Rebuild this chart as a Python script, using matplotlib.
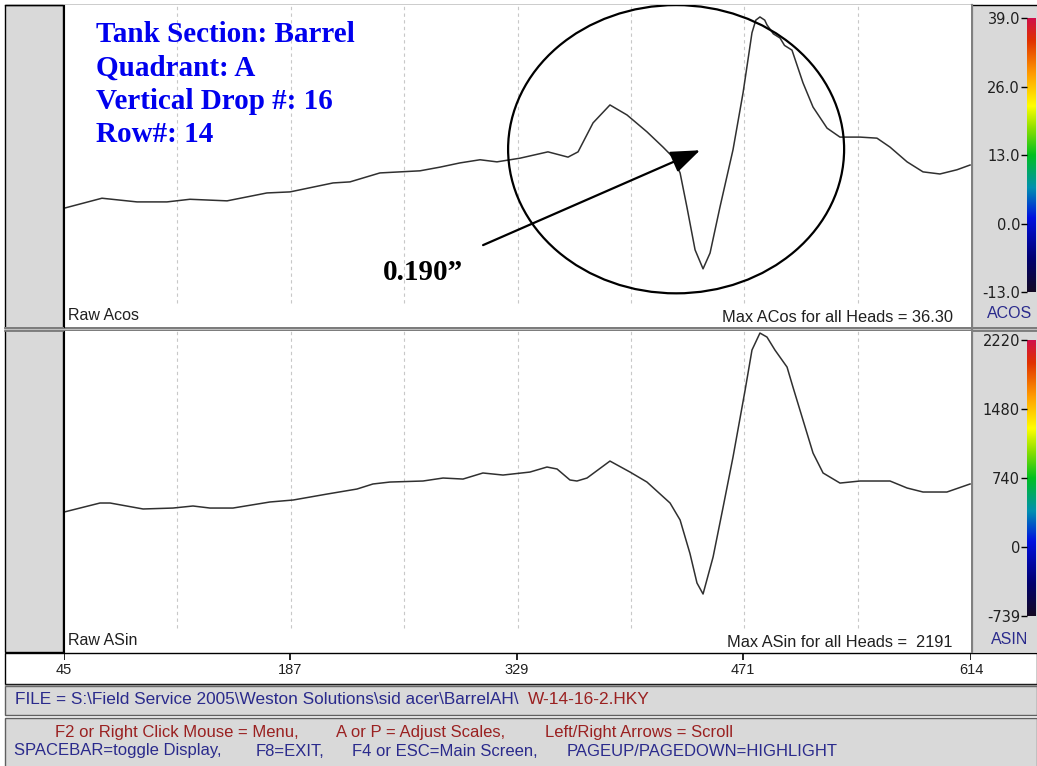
import numpy as np
import matplotlib
matplotlib.use("Agg")
import matplotlib.pyplot as plt
from matplotlib.patches import Rectangle, Ellipse
from matplotlib.colors import LinearSegmentedColormap

# scan positions / amplitudes
acos_x = [45, 68.8, 90.8, 109.6, 124.0, 147.3, 172.3, 186.8, 213.8, 224.4,
          243.2, 268.3, 280.9, 293.4, 306.0, 316.6, 331.1, 348.6, 361.2, 367.5,
          376.9, 387.5, 398.2, 410.7, 420.8, 427.0, 431.5, 435.8, 440.9, 445.9,
          450.3, 456.5, 464.7, 471.0, 476.6, 479.0, 481.6, 484.6, 486.0, 490.0,
          494.2, 497.0, 501.7, 508.6, 514.9, 523.7, 531.8, 544.4, 555.0, 563.2,
          573.9, 583.9, 594.5, 605.2, 613.4]
acos_y = [2.9, 4.8, 4.1, 4.1, 4.6, 4.3, 5.8, 6.0, 7.7, 7.9,
          9.6, 10.0, 10.7, 11.5, 12.1, 11.7, 12.4, 13.6, 12.6, 13.6,
          19.1, 22.5, 20.6, 17.4, 14.5, 12.6, 9.6, 3.1, -5.0, -8.6,
          -5.6, 3.1, 14.0, 24.8, 36.2, 38.6, 39.2, 38.6, 37.7, 36.0,
          35.2, 33.8, 32.9, 26.7, 22.1, 18.1, 16.4, 16.4, 16.2, 14.5,
          11.7, 9.8, 9.4, 10.2, 11.1]

asin_x = [45, 67.6, 73.9, 94.6, 113.4, 125.9, 136.6, 151.0, 174.2, 188.7,
          210.0, 228.8, 238.8, 249.5, 270.2, 282.8, 295.3, 307.8, 320.4, 337.3,
          348.0, 354.3, 362.4, 366.8, 373.1, 387.5, 400.1, 410.7, 425.2, 431.5,
          437.7, 442.1, 445.9, 452.2, 458.5, 464.7, 472.3, 476.6, 481.6, 486.0,
          491.0, 498.6, 502.3, 508.6, 514.9, 521.2, 531.8, 544.4, 563.2, 573.9,
          583.9, 598.9, 613.4]
asin_y = [375, 472, 472, 408, 418, 440, 418, 418, 483, 504,
          568, 622, 676, 697, 708, 740, 729, 794, 772, 804,
          858, 837, 719, 708, 740, 922, 804, 697, 472, 290,
          -70, -386, -504, -107, 429, 965, 1684, 2113, 2295, 2252,
          2113, 1930, 1716, 1362, 1008, 794, 686, 708, 708, 633,
          590, 590, 676]

x_ticks = [45, 187, 329, 471, 614]
acos_ticks = [39, 26, 13, 0, -13]
acos_labels = ["39.0", "26.0", "13.0", "0.0", "-13.0"]
asin_ticks = [2220, 1480, 740, 0, -739]
asin_labels = ["2220", "1480", "740", "0", "-739"]

info_lines = ["Tank Section: Barrel", "Quadrant: A", "Vertical Drop #: 16", "Row#: 14"]

W, H = 1037, 766
GRAY = "#d9d9d9"
NAVY = "#2a2a8c"
BROWN = "#9a2020"
SANS = ["Liberation Sans", "DejaVu Sans"]
SERIF = ["Liberation Serif", "DejaVu Serif"]


def box(x0, y0, x1, y1):
    return [x0 / W, 1 - y1 / H, (x1 - x0) / W, (y1 - y0) / H]


fig = plt.figure(figsize=(W / 100, H / 100), dpi=100)
fig.patch.set_facecolor("white")

# background in pixel coords for the frames and footer
bg = fig.add_axes([0, 0, 1, 1], zorder=0)
bg.set_xlim(0, W)
bg.set_ylim(H, 0)
bg.axis("off")

bg.add_patch(Rectangle((5, 5), 58, 647, facecolor=GRAY, edgecolor="black", lw=1))
bg.add_patch(Rectangle((971, 5), 70, 647, facecolor=GRAY, edgecolor="none"))
bg.plot([5, 1037], [5, 5], color="black", lw=1)
bg.add_patch(Rectangle((5, 327), 1032, 4, facecolor="#c0c0c0", edgecolor="none"))
bg.plot([5, 1037], [327.5, 327.5], color="#707070", lw=1.2)
bg.plot([5, 1037], [330.5, 330.5], color="#707070", lw=1.2)
bg.plot([971.5, 971.5], [5, 652], color="#808080", lw=1.6)

bg.add_patch(Rectangle((5, 653), 1032, 31, facecolor="white", edgecolor="black", lw=1))
bg.add_patch(Rectangle((5, 686), 1032, 29, facecolor=GRAY, edgecolor="#606060", lw=1))
bg.add_patch(Rectangle((5, 718), 1032, 50, facecolor=GRAY, edgecolor="#606060", lw=1))
bg.plot([5, 1037], [685, 685], color="#909090", lw=1)

bg.text(15, 699, "FILE = S:\\Field Service 2005\\Weston Solutions\\sid acer\\BarrelAH\\",
        color=NAVY, fontsize=12.4, family=SANS, va="center", ha="left")
bg.text(528, 699, "W-14-16-2.HKY", color=BROWN, fontsize=12.4, family=SANS,
        va="center", ha="left")

keys1 = [(55, "F2 or Right Click Mouse = Menu,"), (336, "A or P = Adjust Scales,"),
         (545, "Left/Right Arrows = Scroll")]
keys2 = [(14, "SPACEBAR=toggle Display,"), (256, "F8=EXIT,"),
         (352, "F4 or ESC=Main Screen,"), (567, "PAGEUP/PAGEDOWN=HIGHLIGHT")]
for x, t in keys1:
    bg.text(x, 733, t, color=BROWN, fontsize=12, family=SANS, va="center")
for x, t in keys2:
    bg.text(x, 751, t, color=NAVY, fontsize=12, family=SANS, va="center")

cmap = LinearSegmentedColormap.from_list("scan", [
    (0.0, "#140a24"), (0.12, "#000070"), (0.27, "#0010e0"), (0.38, "#0090b0"),
    (0.5, "#00c020"), (0.6, "#90e000"), (0.68, "#ffff00"), (0.8, "#ff9a00"),
    (0.92, "#e03000"), (1.0, "#d0104a")])

grid_x = np.linspace(x_ticks[0], x_ticks[-1], 9)[1:-1]


def panel(top, bot, xs, ys, ylim, ticks, labels, name, left_lbl, right_lbl):
    ax = fig.add_axes(box(64, top, 971, bot), zorder=2)
    ax.set_facecolor("white")
    ax.set_xlim(x_ticks[0], x_ticks[-1])
    ax.set_ylim(*ylim)
    ax.set_xticks([])
    ax.set_yticks([])
    for s in ["top", "right", "bottom"]:
        ax.spines[s].set_visible(False)
    ax.spines["left"].set_color("black")
    ax.vlines(grid_x, 0.075, 1, transform=ax.get_xaxis_transform(),
              colors="#c8c8c8", linestyles=(0, (3, 3)), lw=0.8)
    ax.plot(xs, ys, color="#303030", lw=1.1)
    ax.text(0.004, 0.035, left_lbl, transform=ax.transAxes, fontsize=11.5,
            family=SANS, color="#202020", va="center")
    ax.text(0.98, 0.03, right_lbl, transform=ax.transAxes, fontsize=11.8,
            family=SANS, color="#202020", va="center", ha="right")

    cax = fig.add_axes(box(1027, top, 1036, bot), zorder=2)
    cax.patch.set_visible(False)
    cax.set_ylim(*ylim)
    cax.set_xlim(0, 1)
    cax.imshow(np.linspace(0, 1, 256)[:, None], cmap=cmap, origin="lower",
               extent=(0, 1, ticks[-1], ticks[0]), aspect="auto")
    cax.set_xticks([])
    cax.set_yticks(ticks, labels)
    cax.tick_params(axis="y", length=4, width=1, pad=1, labelsize=10.5,
                    labelcolor="#202020")
    for s in cax.spines.values():
        s.set_visible(False)
    fig.text(1010 / W, 1 - (bot - 13) / H, name, color=NAVY, fontsize=11.5,
             family=SANS, ha="center", va="center", zorder=5)
    return ax


ax1 = panel(5, 327, acos_x, acos_y, (-19.64, 41.47), acos_ticks, acos_labels,
            "ACOS", "Raw Acos", "Max ACos for all Heads = 36.30")
ax2 = panel(331, 652, asin_x, asin_y, (-1126, 2317), asin_ticks, asin_labels,
            "ASIN", "Raw ASin", "Max ASin for all Heads =  2191")

# x scale strip
axx = fig.add_axes(box(64, 654, 971, 684), zorder=2)
axx.set_xlim(x_ticks[0], x_ticks[-1])
axx.set_ylim(0, 1)
axx.axis("off")
axx.vlines(x_ticks, 0.8, 1.0, colors="black", lw=1.2)
for t in x_ticks:
    axx.text(t, 0.45, str(t), ha="center", va="center", fontsize=10.5,
             family=SANS, color="#202020")

# annotations on the ACOS panel
for i, line in enumerate(info_lines):
    ax1.text(96, 35 + 33.3 * i, line, transform=bg.transData, color="#0000ee",
             fontsize=21, fontweight="bold", family=SERIF, va="center", ha="left")

ax1.add_patch(Ellipse((429, 14.1), 210.8, 54.7, fill=False, edgecolor="black",
                      lw=1.6, zorder=5))
ax1.annotate("", xy=(444, 13.9), xytext=(307.9, -4.1),
             arrowprops=dict(arrowstyle="-|>,head_length=1.0,head_width=0.38",
                             mutation_scale=18, lw=1.6, color="black",
                             shrinkA=0, shrinkB=0))
ax1.text(383, 272, "0.190\u201d", transform=bg.transData, color="black",
         fontsize=21, fontweight="bold", family=SERIF, va="center", ha="left")

fig.savefig("out.png", dpi=100)
